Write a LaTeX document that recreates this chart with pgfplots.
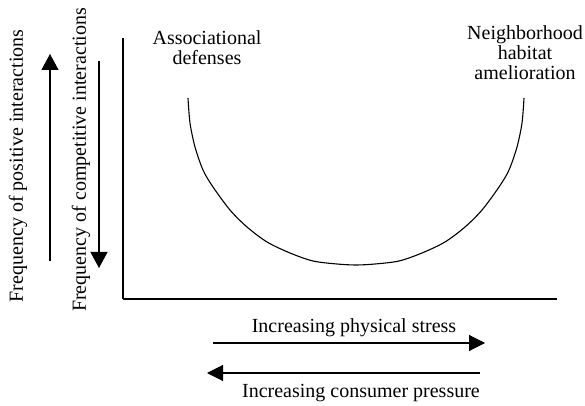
\documentclass[border=0pt]{standalone}
\usepackage{fontspec}
\setmainfont{Liberation Serif}
\usepackage{pgfplots}
\pgfplotsset{compat=1.18}
\usetikzlibrary{arrows.meta}
\begin{document}
\begin{tikzpicture}[every node/.style={font=\fontsize{20}{20}\selectfont, inner sep=0pt}]
\begin{axis}[scale only axis, width=434pt, height=261pt,
  xmin=123, xmax=557, ymin=107, ymax=368,
  axis lines=left, axis line style={-, line width=1.2pt},
  ticks=none, clip=false]
\addplot[smooth, line width=1.1pt, black] coordinates {
(188,308)(190,283)(195,259)(203,236)(213,219)(230,196)(247,179)(267,164)(290,153)(313,145)(337,142)(356,141)
(375,142)(399,145)(422,153)(445,164)(465,179)(482,196)(499,219)(509,236)(517,259)(522,283)(524,308)};
% horizontal arrows
\addplot[line width=1.1pt, black, -{Triangle[length=16pt,width=16pt]}] coordinates {(213,63)(485,63)};
\addplot[line width=1.1pt, black, -{Triangle[length=16pt,width=16pt]}] coordinates {(480,33)(207,33)};
% vertical arrows
\addplot[line width=1.1pt, black, -{Triangle[length=16pt,width=17pt]}] coordinates {(50,145)(50,352)};
\addplot[line width=1.1pt, black, -{Triangle[length=16pt,width=17pt]}] coordinates {(99,345)(99,138)};
% texts
\node[align=center] at (axis cs:207,358) {Associational\\defenses};
\node[align=center] at (axis cs:525,353) {Neighborhood\\habitat\\amelioration};
\node[rotate=90] at (axis cs:18,240) {Frequency of positive interactions};
\node[rotate=90] at (axis cs:81,246) {Frequency of competitive interactions};
\node at (axis cs:354,78) {Increasing physical stress};
\node at (axis cs:361,13) {Increasing consumer pressure};
\path (axis cs:0,0) rectangle (axis cs:585,406);
\end{axis}
\end{tikzpicture}
\end{document}
